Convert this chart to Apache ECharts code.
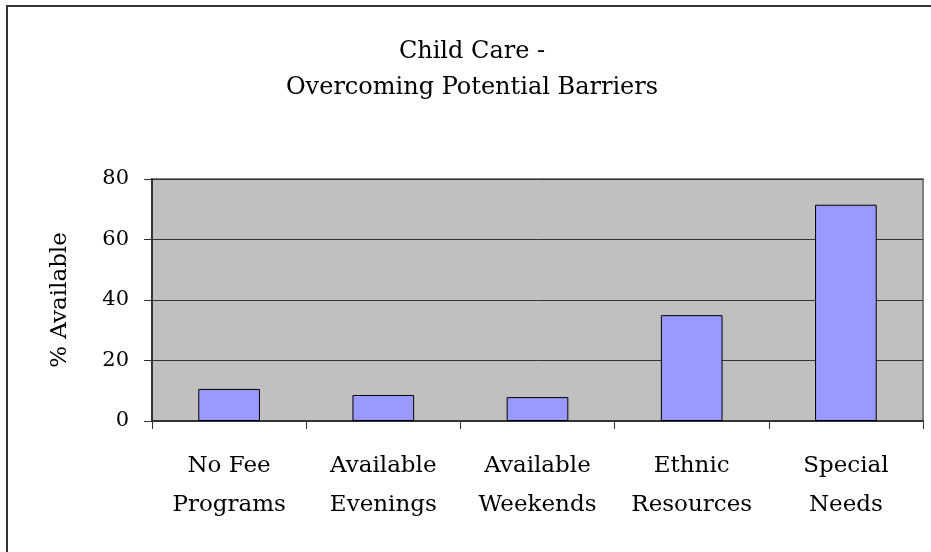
<!DOCTYPE html>
<html>
<head>
<meta charset="utf-8">
<script src="https://cdn.jsdelivr.net/npm/echarts@6/dist/echarts.min.js"></script>
<style>
  html, body { margin: 0; padding: 0; background: #fff; }
  #main { width: 931px; height: 552px; }
</style>
</head>
<body>
<div id="main"></div>
<script>
// chart data
var categories = ["No Fee\nPrograms", "Available\nEvenings", "Available\nWeekends", "Ethnic\nResources", "Special\nNeeds"];
var values = [10.6, 8.6, 7.9, 35.0, 71.5];
var yTicks = [0, 20, 40, 60, 80];

var FONT = "DejaVu Serif";

var myChart = echarts.init(document.getElementById("main"));
myChart.setOption({
  animation: false,
  textStyle: { fontFamily: FONT },
  graphic: [
    {
      // outer chart frame (runs off right / bottom edges)
      type: "rect",
      shape: { x: 7, y: 6, width: 940, height: 560 },
      style: { fill: null, stroke: "#333", lineWidth: 2 },
      z: -1
    },
    {
      type: "text",
      x: 472,
      y: 52,
      style: {
        text: "Child Care -",
        font: "24px " + FONT,
        fill: "#000",
        align: "center",
        verticalAlign: "middle"
      }
    },
    {
      type: "text",
      x: 472,
      y: 88,
      style: {
        text: "Overcoming Potential Barriers",
        font: "24px " + FONT,
        fill: "#000",
        align: "center",
        verticalAlign: "middle"
      }
    }
  ],
  grid: {
    left: 152,
    right: 8,
    top: 179,
    bottom: 131,
    show: true,
    backgroundColor: "#c0c0c0",
    borderColor: "#808080",
    borderWidth: 2
  },
  xAxis: {
    type: "category",
    data: categories,
    axisLine: { lineStyle: { color: "#333", width: 2 } },
    axisTick: { show: true, length: 8, lineStyle: { color: "#333" } },
    axisLabel: {
      color: "#000",
      fontSize: 23,
      lineHeight: 39,
      margin: 26,
      interval: 0
    }
  },
  yAxis: {
    type: "value",
    min: yTicks[0],
    max: yTicks[yTicks.length - 1],
    interval: 20,
    name: "% Available",
    nameLocation: "middle",
    nameGap: 80,
    nameTextStyle: { color: "#000", fontSize: 23 },
    axisLine: { show: true, lineStyle: { color: "#333", width: 2 } },
    axisTick: { show: true, inside: false, length: 8, lineStyle: { color: "#333" } },
    axisLabel: { color: "#000", fontSize: 21, margin: 23 },
    splitLine: { show: true, lineStyle: { color: "#333", width: 1 } }
  },
  series: [
    {
      name: "% Available",
      type: "bar",
      data: values,
      barWidth: "40%",
      itemStyle: {
        color: "#9999ff",
        borderColor: "#000",
        borderWidth: 1
      }
    }
  ]
});
</script>
</body>
</html>
